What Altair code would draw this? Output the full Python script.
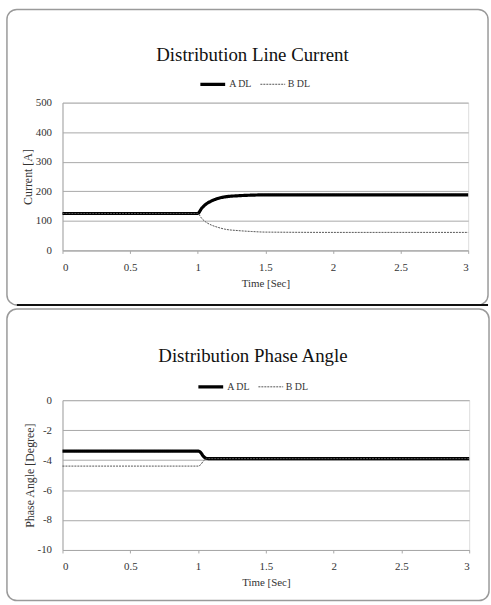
import altair as alt
import pandas as pd

# ---- data ----
series = ["A DL", "B DL"]
x_ticks = [0, 0.5, 1, 1.5, 2, 2.5, 3]

t_cur = [0, 1.0, 1.03, 1.06, 1.1, 1.15, 1.2, 1.3, 1.4, 1.5, 2.0, 3.0]
cur_a = [125, 125, 143, 156, 167, 176, 181, 185, 187, 188, 188, 188]
cur_b = [125, 125, 108, 96, 86, 78, 72, 67, 64, 62, 61, 61]
cur_ticks = [0, 100, 200, 300, 400, 500]

t_ph = [0, 1.0, 1.02, 1.04, 1.06, 1.08, 3.0]
ph_a = [-3.4, -3.4, -3.5, -3.75, -3.88, -3.9, -3.9]
ph_b = [-4.4, -4.4, -4.3, -4.05, -3.92, -3.9, -3.9]
ph_ticks = [-10, -8, -6, -4, -2, 0]

FONT = "Liberation Serif"
TXT = "#333333"
GRID = "#a8a8a8"


def long_df(t, a, b):
    rows = [{"t": ti, "v": vi, "s": series[0]} for ti, vi in zip(t, a)]
    rows += [{"t": ti, "v": vi, "s": series[1]} for ti, vi in zip(t, b)]
    return pd.DataFrame(rows)


def panel(df, title, ytitle, ydom, yticks, w, h, frame, legx, legy, dark_bottom, toff, wa):
    leg = alt.Legend(
        title=None, orient="none", legendX=legx, legendY=legy,
        direction="horizontal", symbolType="stroke", symbolSize=625,
        symbolStrokeWidth=2, labelFont=FONT, labelFontSize=10,
        labelColor=TXT, labelOffset=2, columnPadding=5,
    )
    line = alt.Chart(df).mark_line(interpolate="monotone").encode(
        x=alt.X("t:Q", scale=alt.Scale(domain=[0, 3], nice=False),
                axis=alt.Axis(values=x_ticks, format="~g", title="Time [Sec]",
                              grid=False, domainColor=GRID, tickColor=GRID,
                              tickSize=3, labelPadding=8, labelFont=FONT,
                              labelFontSize=11, labelColor=TXT, titleFont=FONT,
                              titleFontSize=11, titleFontWeight="normal",
                              titleColor=TXT, titlePadding=5)),
        y=alt.Y("v:Q", scale=alt.Scale(domain=ydom, nice=False, zero=False),
                axis=alt.Axis(values=yticks, title=ytitle, grid=True,
                              labelExpr="'' + datum.value",
                              gridColor=GRID, domainColor=GRID, ticks=False,
                              labelPadding=11, labelFont=FONT, labelFontSize=11,
                              labelColor=TXT, titleFont=FONT, titleFontSize=12,
                              titleFontWeight="normal", titleColor=TXT,
                              titlePadding=1)),
        color=alt.Color("s:N", scale=alt.Scale(domain=series, range=["#000000", "#555555"]), legend=leg),
        strokeDash=alt.StrokeDash("s:N", scale=alt.Scale(domain=series, range=[[1, 0], [2, 1]]), legend=leg),
        strokeWidth=alt.StrokeWidth("s:N", scale=alt.Scale(domain=series, range=[wa, 1]), legend=leg),
    )
    fx0, fx1, fy0, fy1 = frame
    box = alt.Chart(pd.DataFrame({"k": [0]})).mark_rect(
        cornerRadius=10, fillOpacity=0, stroke="#9a9a9a", strokeWidth=1.5
    ).encode(x=alt.value(fx0), x2=alt.value(fx1), y=alt.value(fy0), y2=alt.value(fy1))
    layers = [box, line]
    if dark_bottom:
        shadow = alt.Chart(pd.DataFrame({"k": [0]})).mark_rule(
            color="#111111", strokeWidth=2
        ).encode(x=alt.value(fx0 + 10), x2=alt.value(fx1), y=alt.value(fy1))
        layers.append(shadow)
    return alt.layer(*layers).properties(
        width=w, height=h,
        title=alt.TitleParams(title, font=FONT, fontSize=19, fontWeight="normal",
                              color="#111111", anchor="middle", frame="group",
                              baseline="alphabetic", offset=toff, dx=-13),
    )


top = panel(long_df(t_cur, cur_a, cur_b), "Distribution Line Current", "Current [A]",
            [0, 500], cur_ticks, 409, 149, (-56, 429, -94, 204), 137, -33, True, -72, 3.2)
bottom = panel(long_df(t_ph, ph_a, ph_b), "Distribution Phase Angle", "Phase Angle [Degree]",
               [-10, 0], ph_ticks, 410, 151, (-56, 430, -92, 202), 135, -28, False, -73, 2.5)

chart = alt.vconcat(top, bottom, spacing=0).resolve_legend(
    color="independent", strokeDash="independent", strokeWidth="independent"
).properties(
    padding={"left": 5, "top": 5, "right": 0, "bottom": 0}
).configure_view(stroke=None).configure(background="white")

chart.save("out.html", embed_options={"renderer": "svg", "actions": False})
